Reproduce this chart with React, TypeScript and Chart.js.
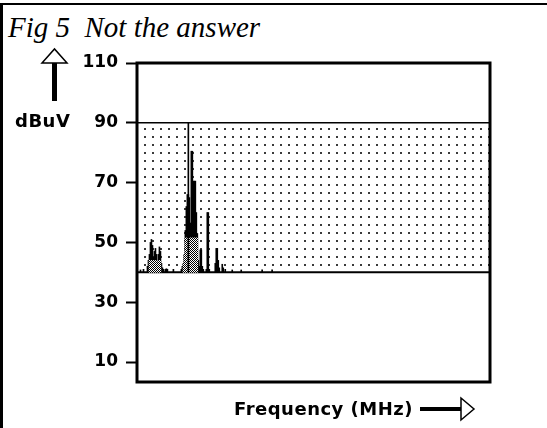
import React, { useEffect, useRef } from "react";
import { Chart, registerables } from "chart.js";

Chart.register(...registerables);

// ---- data (levels in dBuV, frequency as analyzer bin index) ----
const yTicks = [10, 30, 50, 70, 90, 110];
const yMin = 3.33;
const yMax = 110;
const limitLevel = 90;
const floorLevel = 40;
const firstBin = 0;
const lastBin = 353;

// black emission spikes
const spikeBin = [
  3, 6,
  10, 11, 12, 13, 14, 15, 16, 17, 18, 19, 20, 21, 22, 23, 24, 25, 26,
  28, 29, 30, 36,
  44, 45, 46, 47, 48, 49, 50, 51, 52, 53, 54, 55, 56, 57, 58, 59, 60,
  61, 62, 63, 64, 65, 66, 69, 70, 71, 72,
  78, 79, 80, 81, 82, 85, 86, 88, 95, 104, 125, 135,
];
const spikeLevel = [
  40.8, 41,
  42, 44, 46, 50, 51, 49, 45, 47, 48, 46, 43, 46, 48.5, 47, 43, 41.5, 41,
  41, 41.2, 41, 41,
  41, 42, 43, 46, 54, 62, 66, 66, 65, 56.5, 80.5, 80.5, 70.5, 70.5, 70.5, 60, 53,
  44, 42, 47.5, 47.5, 42, 41, 41, 60, 60, 41,
  43, 48, 48, 44, 41.5, 42.7, 41.5, 41, 40.8, 40.8, 40.8, 40.8,
];

// hatched (checkered) lower parts of the clusters
const hatchBin = [
  12, 13, 14, 15, 16, 17, 18, 19, 20, 21, 22, 23,
  46, 47, 48, 49, 50, 51, 52, 53, 54, 55, 56, 57, 58, 59, 60,
];
const hatchLevel = [
  44, 44, 44, 44, 44, 44, 44, 44, 43, 44, 44, 44,
  43, 46, 51.5, 51.5, 51.5, 51.5, 51.5, 51.5, 51.5, 51.5, 51.5, 51.5, 51.5, 51.5, 51.5,
];

// single marker line up to the limit
const markerBin = [51];
const markerLevel = [90];

function makeTile(size: number, draw: (c: CanvasRenderingContext2D) => void) {
  const t = document.createElement("canvas");
  t.width = size;
  t.height = size;
  const c = t.getContext("2d")!;
  draw(c);
  return t;
}

export default function App() {
  const ref = useRef<HTMLCanvasElement>(null);

  useEffect(() => {
    const canvas = ref.current!;
    const ctx = canvas.getContext("2d")!;

    const dotTile = makeTile(8, (c) => {
      c.fillStyle = "#ffffff";
      c.fillRect(0, 0, 8, 8);
      c.fillStyle = "#3a3a3a";
      c.fillRect(0, 0, 2, 2);
    });
    const dots = ctx.createPattern(dotTile, "repeat")!;

    const checkTile = makeTile(2, (c) => {
      c.fillStyle = "#ffffff";
      c.fillRect(0, 0, 2, 2);
      c.fillStyle = "#000000";
      c.fillRect(0, 0, 1, 1);
      c.fillRect(1, 1, 1, 1);
    });
    const checker = ctx.createPattern(checkTile, "repeat")!;

    const boxPlugin = {
      id: "box",
      afterDatasetsDraw(chart: any) {
        const { ctx: c, chartArea: a } = chart;
        c.save();
        c.strokeStyle = "#000";
        c.lineWidth = 3;
        c.strokeRect(a.left, a.top, a.right - a.left, a.bottom - a.top);
        c.restore();
      },
    };

    const chart = new Chart(canvas, {
      type: "bar",
      data: {
        datasets: [
          {
            type: "line",
            label: "limit",
            data: [
              { x: firstBin - 0.5, y: limitLevel },
              { x: lastBin + 0.5, y: limitLevel },
            ],
            borderColor: "#000",
            borderWidth: 1.5,
            backgroundColor: dots,
            fill: { value: floorLevel },
            pointRadius: 0,
            order: 10,
          } as any,
          {
            type: "line",
            label: "floor",
            data: [
              { x: firstBin - 0.5, y: floorLevel },
              { x: lastBin + 0.5, y: floorLevel },
            ],
            borderColor: "#000",
            borderWidth: 2,
            pointRadius: 0,
            fill: false,
            order: 5,
          } as any,
          {
            type: "bar",
            label: "spikes",
            data: spikeBin.map((b, i) => ({ x: b, y: [floorLevel, spikeLevel[i]] })),
            backgroundColor: "#000",
            borderWidth: 0,
            barThickness: 1,
            grouped: false,
            order: 3,
          } as any,
          {
            type: "bar",
            label: "hatch",
            data: hatchBin.map((b, i) => ({ x: b, y: [floorLevel, hatchLevel[i]] })),
            backgroundColor: checker,
            borderWidth: 0,
            barThickness: 1,
            grouped: false,
            order: 2,
          } as any,
          {
            type: "bar",
            label: "marker",
            data: markerBin.map((b, i) => ({ x: b, y: [floorLevel, markerLevel[i]] })),
            backgroundColor: "#000",
            borderWidth: 0,
            barThickness: 1,
            grouped: false,
            order: 1,
          } as any,
        ],
      },
      options: {
        responsive: false,
        animation: false,
        devicePixelRatio: 1,
        layout: { padding: { top: 63, right: 57, left: 0, bottom: 0 } },
        plugins: {
          legend: { display: false },
          tooltip: { enabled: false },
        },
        scales: {
          x: {
            type: "linear",
            min: firstBin - 0.5,
            max: lastBin + 0.5,
            offset: false,
            grid: { display: false },
            border: { display: false },
            ticks: { display: false },
            afterFit: (s: any) => {
              s.height = 46;
            },
          },
          y: {
            type: "linear",
            min: yMin,
            max: yMax,
            afterBuildTicks: (s: any) => {
              s.ticks = yTicks.map((v) => ({ value: v }));
            },
            afterFit: (s: any) => {
              s.width = 137;
            },
            grid: {
              drawOnChartArea: false,
              drawTicks: true,
              tickLength: 11,
              tickWidth: 2,
              tickColor: "#000",
            },
            border: { display: false },
            ticks: {
              color: "#000",
              padding: 8,
              font: { family: '"DejaVu Sans", sans-serif', weight: "bold", size: 17 },
            },
          },
        } as any,
      },
      plugins: [boxPlugin],
    });

    return () => chart.destroy();
  }, []);

  const labelFont = '"DejaVu Sans", sans-serif';

  return (
    <div
      style={{
        position: "fixed",
        left: 0,
        top: 0,
        width: 547,
        height: 428,
        background: "#fff",
        overflow: "hidden",
      }}
    >
      <div style={{ position: "absolute", left: 0, top: 3, width: 547, height: 2, background: "#000" }} />
      <div style={{ position: "absolute", left: 0, top: 3, width: 3, height: 425, background: "#000" }} />
      <div
        style={{
          position: "absolute",
          left: 8,
          top: 13,
          fontFamily: '"Liberation Serif", "Times New Roman", serif',
          fontStyle: "italic",
          fontSize: 29,
          lineHeight: "29px",
          whiteSpace: "pre",
          color: "#000",
        }}
      >
        {"Fig 5  Not the answer"}
      </div>
      <canvas
        ref={ref}
        width={547}
        height={428}
        style={{ position: "absolute", left: 0, top: 0, width: 547, height: 428 }}
      />
      <div
        style={{
          position: "absolute",
          left: 15,
          top: 112,
          fontFamily: labelFont,
          fontWeight: "bold",
          fontSize: 18,
          lineHeight: "18px",
          letterSpacing: 0.5,
          color: "#000",
          whiteSpace: "pre",
        }}
      >
        dBuV
      </div>
      <div
        style={{
          position: "absolute",
          left: 234,
          top: 400,
          fontFamily: labelFont,
          fontWeight: "bold",
          fontSize: 18,
          lineHeight: "18px",
          letterSpacing: 0.5,
          color: "#000",
          whiteSpace: "pre",
        }}
      >
        Frequency (MHz)
      </div>
      <svg
        width={547}
        height={428}
        style={{ position: "absolute", left: 0, top: 0, pointerEvents: "none" }}
      >
        <rect x={52} y={63} width={5} height={38} fill="#000" />
        <polygon points="42,63 54.5,49 67,63" fill="#fff" stroke="#000" strokeWidth={1.5} />
        <rect x={420} y={407} width={42} height={4} fill="#000" />
        <polygon points="461,398 474,409 461,420" fill="#fff" stroke="#000" strokeWidth={1.5} />
      </svg>
    </div>
  );
}
